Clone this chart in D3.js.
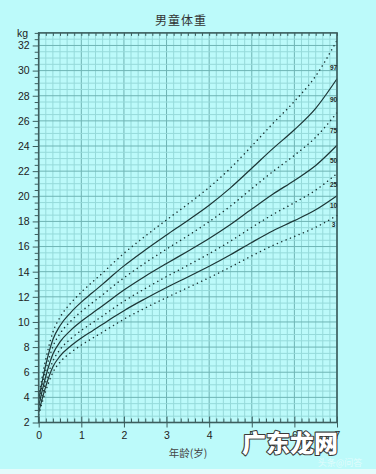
<!DOCTYPE html>
<html><head><meta charset="utf-8">
<script src="https://cdn.jsdelivr.net/npm/d3@7"></script>
<style>
html,body{margin:0;padding:0;background:#bcfafa;}
svg{display:block;}
</style></head>
<body>
<svg id="c" width="376" height="474"></svg>
<script>
// ---- data (boys' weight, kg, by age in years) ----
const ages = [0, 1/6, 1/3, 0.5, 0.75, 1, 1.25, 1.5, 1.75, 2, 2.5, 3, 3.5, 4, 4.5, 5, 5.5, 6, 6.5, 7];
const p3  = [2.62, 4.53, 5.99, 6.80, 7.56, 8.16, 8.68, 9.19, 9.71, 10.22, 11.11, 11.94, 12.73, 13.52, 14.37, 15.26, 16.09, 16.80, 17.53, 18.48];
const p10 = [2.83, 4.88, 6.43, 7.28, 8.09, 8.72, 9.27, 9.81, 10.37, 10.90, 11.85, 12.74, 13.58, 14.43, 15.35, 16.33, 17.26, 18.06, 18.92, 20.04];
const p25 = [3.06, 5.25, 6.90, 7.80, 8.66, 9.33, 9.91, 10.48, 11.08, 11.65, 12.66, 13.61, 14.51, 15.43, 16.43, 17.52, 18.56, 19.49, 20.49, 21.81];
const p50 = [3.32, 5.68, 7.45, 8.41, 9.33, 10.05, 10.68, 11.29, 11.93, 12.54, 13.64, 14.65, 15.63, 16.64, 17.75, 18.98, 20.18, 21.26, 22.45, 24.06];
const p75 = [3.59, 6.15, 8.04, 9.07, 10.06, 10.83, 11.51, 12.16, 12.86, 13.51, 14.70, 15.80, 16.86, 17.98, 19.22, 20.61, 21.98, 23.26, 24.70, 26.66];
const p90 = [3.85, 6.59, 8.61, 9.70, 10.75, 11.58, 12.30, 13.01, 13.75, 14.46, 15.73, 16.92, 18.08, 19.29, 20.67, 22.23, 23.81, 25.29, 27.00, 29.35];
const p97 = [4.12, 7.05, 9.20, 10.37, 11.49, 12.37, 13.15, 13.90, 14.70, 15.46, 16.83, 18.12, 19.38, 20.71, 22.24, 24.00, 25.81, 27.55, 29.57, 32.41];
const percentileNames = ["3", "10", "25", "50", "75", "90", "97"];
const xTickLabels = [0, 1, 2, 3, 4, 5, 6, 7];
const yTickLabels = [2, 4, 6, 8, 10, 12, 14, 16, 18, 20, 22, 24, 26, 28, 30, 32];
const title = "男童体重";
const xTitle = "年龄(岁)";
const yUnit = "kg";

const series = [p3, p10, p25, p50, p75, p90, p97].map((v, i) => ({
  name: percentileNames[i], values: v, solid: ["10", "50", "90"].includes(percentileNames[i])
}));

// ---- layout ----
const svg = d3.select("#c");
const W = 376, H = 474;
const x = d3.scaleLinear().domain([0, 7]).range([38.7, 337]);
const y = d3.scaleLinear().domain([2, 33]).range([422.5, 32.9]);

svg.append("rect").attr("width", W).attr("height", H).attr("fill", "#bcfafa");
svg.append("rect").attr("x", 0).attr("y", 469).attr("width", W).attr("height", 5).attr("fill", "#e4fbfb");

const g = svg.append("g");
// grid
const xMinor = d3.range(0, 43).map(i => i / 6);
const yMinor = d3.range(0, 63).map(i => 2 + i * 0.5);
const isInt = d => Math.abs(d - Math.round(d)) < 1e-6;
g.selectAll(".vx").data(xMinor).join("line")
  .attr("x1", d => x(d)).attr("x2", d => x(d))
  .attr("y1", y(33)).attr("y2", y(2))
  .attr("stroke", d => isInt(d) ? "#6fb4b4" : "#96dada")
  .attr("stroke-width", 1);
g.selectAll(".hy").data(yMinor).join("line")
  .attr("x1", x(0)).attr("x2", x(7))
  .attr("y1", d => y(d)).attr("y2", d => y(d))
  .attr("stroke", d => d % 2 === 0 ? "#6fb4b4" : "#96dada")
  .attr("stroke-width", 1);

// curves
const line = d3.line().x((d, i) => x(ages[i])).y(d => y(d)).curve(d3.curveMonotoneX);
series.forEach(s => {
  g.append("path").attr("d", line(s.values))
    .attr("fill", "none")
    .attr("stroke", "#1c3636")
    .attr("stroke-width", s.solid ? 1.2 : 1.5)
    .attr("stroke-linecap", s.solid ? "butt" : "round")
    .attr("stroke-dasharray", s.solid ? null : "0.1,4.6");
});

// frame
const axisColor = "#3c5e5e";
g.append("rect").attr("x", x(0)).attr("y", y(33)).attr("width", x(7) - x(0)).attr("height", y(2) - y(33))
  .attr("fill", "none").attr("stroke", axisColor).attr("stroke-width", 1.6);

function styleAxis(sel) {
  sel.select(".domain").remove();
  sel.selectAll(".tick line").attr("stroke", axisColor).attr("stroke-width", 1);
  sel.selectAll(".tick text").attr("fill", "#222").attr("font-family", "Liberation Sans, Arial, sans-serif").attr("font-size", 10.5);
}
// y axis
svg.append("g").attr("transform", `translate(${x(0)},0)`)
  .call(d3.axisLeft(y).tickValues(yMinor.filter(d => d % 2 !== 0)).tickSize(4).tickFormat(""))
  .call(styleAxis);
svg.append("g").attr("transform", `translate(${x(0)},0)`)
  .call(d3.axisLeft(y).tickValues(yTickLabels).tickSize(6).tickPadding(3).tickFormat(d3.format("d")))
  .call(styleAxis);
// x axis
svg.append("g").attr("transform", `translate(0,${y(2)})`)
  .call(d3.axisTop(x).tickValues(xMinor.filter(d => !isInt(d))).tickSize(4).tickFormat(""))
  .call(styleAxis);
svg.append("g").attr("transform", `translate(0,${y(2)})`)
  .call(d3.axisTop(x).tickValues(xTickLabels).tickSize(6).tickFormat(""))
  .call(styleAxis);
svg.append("g").attr("transform", `translate(0,${y(2)})`)
  .call(d3.axisBottom(x).tickValues(xTickLabels).tickSize(5).tickPadding(4).tickFormat(d3.format("d")))
  .call(styleAxis);
// top border small ticks
svg.append("g").attr("transform", `translate(0,${y(33)})`)
  .call(d3.axisBottom(x).tickValues(xMinor).tickSize(3).tickFormat(""))
  .call(styleAxis);

// percentile labels at right end
const labelY = {"97": 30.2, "90": 27.7, "75": 25.2, "50": 22.85, "25": 20.9, "10": 19.25, "3": 17.75};
series.forEach(s => {
  svg.append("text").attr("x", x(6.92)).attr("y", y(labelY[s.name]))
    .attr("text-anchor", "middle").attr("dy", "0.35em")
    .attr("font-family", "Liberation Sans, Arial, sans-serif").attr("font-size", 6.5).attr("font-weight", "bold")
    .attr("fill", "#1c2c2c").text(s.name);
});

// titles
svg.append("text").attr("x", 181).attr("y", 25).attr("text-anchor", "middle")
  .attr("font-family", "Noto Sans CJK SC, sans-serif").attr("font-size", 12).attr("fill", "#333")
  .attr("letter-spacing", 1).text(title);
svg.append("text").attr("x", 28).attr("y", 37).attr("text-anchor", "end")
  .attr("font-family", "Liberation Sans, Arial, sans-serif").attr("font-size", 10.5).attr("fill", "#222").text(yUnit);
svg.append("text").attr("x", 188).attr("y", 457).attr("text-anchor", "middle")
  .attr("font-family", "Noto Sans CJK SC, sans-serif").attr("font-size", 10.5).attr("fill", "#444").text(xTitle);

// watermark
svg.append("text").attr("x", 290).attr("y", 452).attr("text-anchor", "middle")
  .attr("font-family", "Noto Sans CJK SC, sans-serif").attr("font-size", 24).attr("font-weight", "900")
  .attr("fill", "#ffffff").attr("stroke", "#3a3a3a").attr("stroke-width", 2.2).attr("paint-order", "stroke")
  .attr("stroke-linejoin", "round").text("广东龙网");
svg.append("text").attr("x", 340).attr("y", 466).attr("text-anchor", "middle")
  .attr("font-family", "Noto Sans CJK SC, sans-serif").attr("font-size", 9)
  .attr("fill", "#ffffff").attr("opacity", 0.55).text("头条@问答");
</script>
</body></html>
